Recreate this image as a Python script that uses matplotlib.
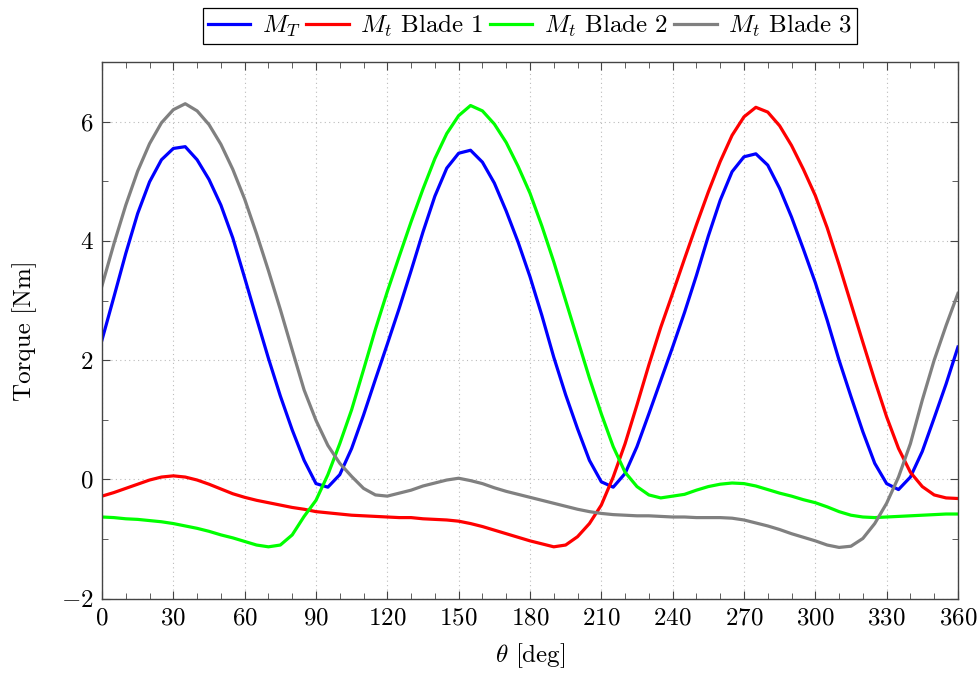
import numpy as np
import matplotlib
matplotlib.use("Agg")
import matplotlib.pyplot as plt
from matplotlib.ticker import MultipleLocator

plt.rcParams['font.family'] = 'serif'
plt.rcParams['font.serif'] = ['cmr10']
plt.rcParams['mathtext.fontset'] = 'cm'
plt.rcParams['axes.formatter.use_mathtext'] = True

# rotor angle, sampled every 5 deg
theta = np.arange(0, 365, 5)

# total torque
m_total = [2.34, 3.06, 3.79, 4.46, 4.99, 5.36, 5.55, 5.58, 5.36, 5.03, 4.6, 4.05, 3.38,
           2.7, 2.03, 1.4, 0.83, 0.32, -0.07, -0.13, 0.08, 0.52, 1.08, 1.68, 2.27,
           2.87, 3.5, 4.15, 4.75, 5.22, 5.47, 5.52, 5.32, 4.97, 4.5, 3.98, 3.4,
           2.75, 2.05, 1.42, 0.85, 0.32, -0.04, -0.13, 0.1, 0.55, 1.1, 1.66, 2.22,
           2.8, 3.42, 4.08, 4.68, 5.16, 5.41, 5.46, 5.27, 4.88, 4.4, 3.86, 3.3,
           2.67, 2.0, 1.39, 0.8, 0.27, -0.07, -0.17, 0.04, 0.47, 1.03, 1.6, 2.22]

blade1 = [-0.28, -0.22, -0.15, -0.08, -0.01, 0.04, 0.06, 0.04, -0.01, -0.08, -0.16, -0.24, -0.3,
          -0.35, -0.39, -0.43, -0.47, -0.5, -0.54, -0.56, -0.58, -0.6, -0.61, -0.62, -0.63,
          -0.64, -0.64, -0.66, -0.67, -0.68, -0.7, -0.74, -0.79, -0.85, -0.91, -0.97, -1.03,
          -1.08, -1.13, -1.1, -0.96, -0.74, -0.43, 0.04, 0.6, 1.25, 1.92, 2.55, 3.12,
          3.7, 4.27, 4.82, 5.33, 5.77, 6.08, 6.24, 6.16, 5.93, 5.6, 5.2, 4.76,
          4.22, 3.6, 2.95, 2.3, 1.66, 1.05, 0.52, 0.12, -0.12, -0.26, -0.31, -0.32]

blade2 = [-0.63, -0.64, -0.66, -0.67, -0.69, -0.71, -0.74, -0.78, -0.82, -0.87, -0.93, -0.98, -1.04,
          -1.1, -1.13, -1.1, -0.93, -0.62, -0.35, 0.08, 0.6, 1.17, 1.84, 2.52, 3.15,
          3.74, 4.32, 4.87, 5.38, 5.8, 6.1, 6.27, 6.18, 5.96, 5.65, 5.25, 4.8,
          4.25, 3.65, 3.0, 2.35, 1.7, 1.1, 0.55, 0.12, -0.12, -0.26, -0.31, -0.28,
          -0.25, -0.18, -0.12, -0.08, -0.06, -0.07, -0.11, -0.17, -0.23, -0.28, -0.34, -0.39,
          -0.46, -0.54, -0.6, -0.63, -0.64, -0.63, -0.62, -0.61, -0.6, -0.59, -0.58, -0.58]

blade3 = [3.25, 3.95, 4.6, 5.17, 5.63, 5.98, 6.2, 6.3, 6.18, 5.95, 5.62, 5.2, 4.7,
          4.12, 3.5, 2.85, 2.17, 1.5, 0.99, 0.57, 0.27, 0.05, -0.15, -0.26, -0.28,
          -0.23, -0.18, -0.11, -0.06, -0.01, 0.02, -0.02, -0.07, -0.14, -0.2, -0.25, -0.3,
          -0.35, -0.4, -0.45, -0.5, -0.54, -0.57, -0.59, -0.6, -0.61, -0.61, -0.62, -0.63,
          -0.63, -0.64, -0.64, -0.64, -0.65, -0.68, -0.73, -0.78, -0.84, -0.91, -0.97, -1.03,
          -1.1, -1.14, -1.12, -0.99, -0.74, -0.4, 0.04, 0.6, 1.33, 2.0, 2.58, 3.12]

fig = plt.figure(figsize=(9.79, 6.73), dpi=100)
ax = fig.add_axes([0.1042, 0.1104, 0.8743, 0.7975])

lw = 2.3
ax.plot(theta, m_total, color=(0, 0, 1), lw=lw, label=r'$M_T$')
ax.plot(theta, blade1, color=(1, 0, 0), lw=lw, label=r'$M_t$ Blade 1')
ax.plot(theta, blade2, color=(0, 1, 0), lw=lw, label=r'$M_t$ Blade 2')
ax.plot(theta, blade3, color=(0.5, 0.5, 0.5), lw=lw, label=r'$M_t$ Blade 3')

ax.set_xlim(0, 360)
ax.set_ylim(-2, 7)
ax.xaxis.set_major_locator(MultipleLocator(30))
ax.xaxis.set_minor_locator(MultipleLocator(10))
ax.yaxis.set_major_locator(MultipleLocator(2))
ax.yaxis.set_minor_locator(MultipleLocator(1))
ax.tick_params(which='both', direction='in', top=True, right=True, labelsize=18, color='#444444')
ax.tick_params(which='major', length=6, pad=6)
ax.tick_params(which='minor', length=4)
ax.grid(True, which='major', linestyle=(0, (1, 3)), color='#bbbbbb', lw=0.8)
for s in ax.spines.values():
    s.set_color('#444444')
    s.set_linewidth(1.0)

ax.set_xlabel(r'$\theta$ [deg]', fontsize=18, labelpad=9)
ax.set_ylabel('Torque [Nm]', fontsize=18, labelpad=17)

leg = ax.legend(loc='lower center', bbox_to_anchor=(0.5, 1.033), ncol=4, fontsize=18,
                frameon=True, fancybox=False, edgecolor='black', framealpha=1,
                handlelength=1.7, handletextpad=0.45, columnspacing=0.25, borderpad=0.2,
                borderaxespad=0)
leg.get_frame().set_linewidth(0.9)

fig.savefig('out.png', dpi=100)
